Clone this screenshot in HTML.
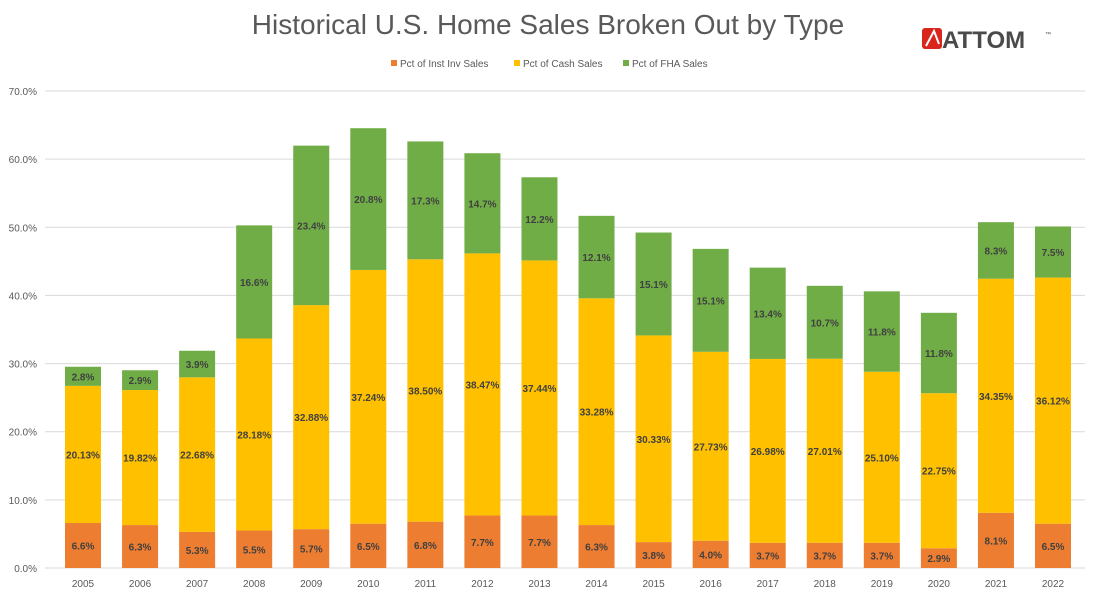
<!DOCTYPE html>
<html><head><meta charset="utf-8"><style>
body{margin:0;background:#fff;font-family:"Liberation Sans",sans-serif;}
</style></head><body>
<svg width="1101" height="603" xmlns="http://www.w3.org/2000/svg" id="svg">
<text x="548" y="34" text-anchor="middle" font-size="28" fill="#595959">Historical U.S. Home Sales Broken Out by Type</text>
<g>
<rect x="922" y="28" width="20" height="21" rx="3" fill="#d9261c"/>
<path d="M926 46 L934 31 L939 44" stroke="#fff" stroke-width="2" fill="none"/>
<text x="942" y="48" font-size="24" font-weight="bold" fill="#4a4a4a">ATTOM</text>
<text x="1045" y="36" font-size="6" fill="#4a4a4a">™</text>
</g>
<g id="legend" font-size="10" fill="#595959"></g>
<g id="grid"></g><g id="bars"></g><g id="labels"></g>
</svg>
<script>
const years=["2005","2006","2007","2008","2009","2010","2011","2012","2013","2014","2015","2016","2017","2018","2019","2020","2021","2022"];
const inst=[6.6,6.3,5.3,5.5,5.7,6.5,6.8,7.7,7.7,6.3,3.8,4.0,3.7,3.7,3.7,2.9,8.1,6.5];
const cash=[20.13,19.82,22.68,28.18,32.88,37.24,38.50,38.47,37.44,33.28,30.33,27.73,26.98,27.01,25.10,22.75,34.35,36.12];
const fha=[2.8,2.9,3.9,16.6,23.4,20.8,17.3,14.7,12.2,12.1,15.1,15.1,13.4,10.7,11.8,11.8,8.3,7.5];
const yTicks=[0,10,20,30,40,50,60,70];
const NS="http://www.w3.org/2000/svg";
const y0=568,pxPer=(568-91)/70,x0=83,step=(1053-83)/17,bw=36;
const y=v=>y0-v*pxPer, x=i=>x0+i*step;
function mk(t,a,p){const e=document.createElementNS(NS,t);for(const k in a)e.setAttribute(k,a[k]);p.appendChild(e);return e;}
const grid=document.getElementById('grid');
yTicks.forEach(t=>{
 const l=mk('line',{x1:45,x2:1085,y1:y(t),y2:y(t),stroke:'#d9d9d9','stroke-width':1},grid);
 
 
 const tx=mk('text',{x:37,y:y(t)+4,'text-anchor':'end','font-size':10,fill:'#595959'},grid);
 tx.textContent=t.toFixed(1)+'%';
 
 
});
const bars=document.getElementById('bars'),labels=document.getElementById('labels');
const series=[{d:inst,c:'#ED7D31',n:'inst',f:v=>v.toFixed(1)},{d:cash,c:'#FFC000',n:'cash',f:v=>v.toFixed(2)},{d:fha,c:'#70AD47',n:'fha',f:v=>v.toFixed(1)}];
years.forEach((yr,i)=>{
 let base=0;
 series.forEach(s=>{
  const v=s.d[i];
  const r=mk('rect',{x:x(i)-bw/2,y:y(base+v),width:bw,height:y(base)-y(base+v),fill:s.c},bars);
  
  
  const t=mk('text',{x:x(i),y:y(base+v/2)+4,'text-anchor':'middle','font-size':10,'font-weight':'bold',fill:'#404040'},labels);
  t.textContent=s.f(v)+'%';
  
  
  base+=v;
 });
 const xl=mk('text',{x:x(i),y:587,'text-anchor':'middle','font-size':10,fill:'#595959'},labels);
 xl.textContent=yr;
 
 
});
const lg=document.getElementById('legend');
const leg=[["Pct of Inst Inv Sales",'#ED7D31',391],["Pct of Cash Sales",'#FFC000',514],["Pct of FHA Sales",'#70AD47',623]];
leg.forEach(l=>{
 const g=mk('g',{},lg);
 
 
 mk('rect',{x:l[2],y:60,width:6,height:6,fill:l[1]},g);
 const t=mk('text',{x:l[2]+9,y:67},g);t.textContent=l[0];
});
</script>
</body></html>
